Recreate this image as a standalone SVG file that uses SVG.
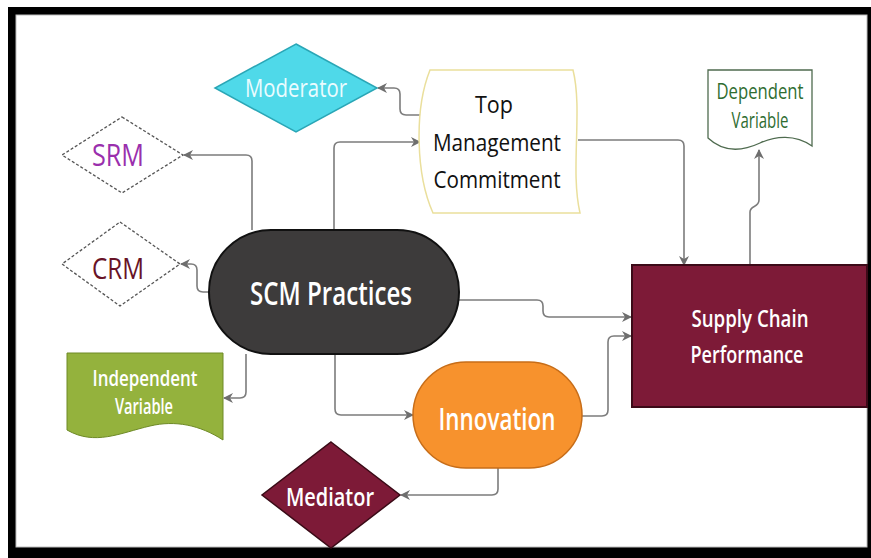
<svg xmlns="http://www.w3.org/2000/svg" width="871" height="558" viewBox="0 0 871 558">
  <style>
    text { font-family: "Open Sans", "Noto Sans", "Liberation Sans", sans-serif; text-anchor: middle; font-weight: 500; }
    .wire { fill: none; stroke: #7c7c7c; stroke-width: 1.6; marker-end: url(#arrow); }
    .light { fill: #ffffff; font-weight: 600; }
  </style>
  <defs>
    <marker id="arrow" markerUnits="userSpaceOnUse" markerWidth="12" markerHeight="12" refX="9" refY="5" orient="auto">
      <path d="M0,0 L10,5 L0,10 L3,5 Z" fill="#6e6e6e"/>
    </marker>
  </defs>

  <!-- frame -->
  <rect x="0" y="0" width="871" height="558" fill="#ffffff"/>
  <rect x="8" y="7" width="863" height="551" fill="#000000"/>
  <rect x="16" y="15" width="851" height="532" fill="#ffffff" stroke="#bdbdbd" stroke-width="1"/>

  <!-- connectors -->
  <g id="connectors">
    <path class="wire" d="M252,230 V161 Q252,155 246,155 H184"/>
    <path class="wire" d="M209,292 H203 Q197,292 197,286 V270 Q197,264 191,264 H181"/>
    <path class="wire" d="M246,354 V392 Q246,398 240,398 H224"/>
    <path class="wire" d="M334,230 V148 Q334,142 340,142 H420"/>
    <path class="wire" d="M421,115 H406 Q400,115 400,109 V94 Q400,88 394,88 H378"/>
    <path class="wire" d="M578,140 H678 Q684,140 684,146 V265"/>
    <path class="wire" d="M750,265 V212 C750,205 759,208 759,200 V150"/>
    <path class="wire" d="M459,300 H537 Q543,300 543,306 V311 Q543,317 549,317 H631"/>
    <path class="wire" d="M582,416 H602 Q608,416 608,410 V342 Q608,336 614,336 H631"/>
    <path class="wire" d="M335,354 V409 Q335,415 341,415 H413"/>
    <path class="wire" d="M498,468 V489 Q498,495 492,495 H401"/>
  </g>

  <!-- Moderator -->
  <g id="moderator">
    <path d="M296,44 L377,88 L296,132 L215,88 Z" fill="#4fd9e9" stroke="#2aa6b6" stroke-width="1.5"/>
    <text x="296" y="97" font-size="25" fill="#eafcff" textLength="102" lengthAdjust="spacingAndGlyphs">Moderator</text>
  </g>

  <!-- Top Management Commitment -->
  <g id="top-management">
    <path d="M430,70 H573 C583,110 570,170 580,213 H433 C416,175 414,110 430,70 Z" fill="#ffffff" stroke="#eadf9c" stroke-width="1.5"/>
    <text x="494" y="113" font-size="24" fill="#111111" textLength="38" lengthAdjust="spacingAndGlyphs">Top</text>
    <text x="497" y="151" font-size="24" fill="#111111" textLength="128" lengthAdjust="spacingAndGlyphs">Management</text>
    <text x="497" y="188" font-size="24" fill="#111111" textLength="127" lengthAdjust="spacingAndGlyphs">Commitment</text>
  </g>

  <!-- SRM -->
  <g id="srm">
    <path d="M122,117 L183,155 L122,193 L62,155 Z" fill="#ffffff" stroke="#555555" stroke-width="1.3" stroke-dasharray="3,2"/>
    <text x="118" y="166" font-size="31" fill="#9a2fad" textLength="52" lengthAdjust="spacingAndGlyphs">SRM</text>
  </g>

  <!-- CRM -->
  <g id="crm">
    <path d="M120,222 L180,264 L120,306 L62,264 Z" fill="#ffffff" stroke="#555555" stroke-width="1.3" stroke-dasharray="3,2"/>
    <text x="118" y="279" font-size="30" fill="#681327" textLength="52" lengthAdjust="spacingAndGlyphs">CRM</text>
  </g>

  <!-- SCM Practices -->
  <g id="scm-practices">
    <rect x="209" y="230" width="250" height="124" rx="62" ry="62" fill="#3d3b3b" stroke="#111111" stroke-width="2"/>
    <text x="331" y="305" font-size="32" class="light" textLength="162" lengthAdjust="spacingAndGlyphs">SCM Practices</text>
  </g>

  <!-- Independent Variable -->
  <g id="independent-variable">
    <path d="M67,353 H223 V440 C200,425 175,420 150,426 C120,433 95,446 67,430 Z" fill="#94b23d" stroke="#6e8a27" stroke-width="1"/>
    <text x="145" y="386" font-size="22" class="light" textLength="105" lengthAdjust="spacingAndGlyphs">Independent</text>
    <text x="144" y="414" font-size="22" class="light" textLength="58" lengthAdjust="spacingAndGlyphs">Variable</text>
  </g>

  <!-- Dependent Variable -->
  <g id="dependent-variable">
    <path d="M708,70 H812 V146 C795,134 775,136 760,143 C745,150 725,154 708,138 Z" fill="#ffffff" stroke="#4f6b4f" stroke-width="1.3"/>
    <text x="760" y="99" font-size="21" fill="#2f6d31" textLength="87" lengthAdjust="spacingAndGlyphs">Dependent</text>
    <text x="760" y="128" font-size="21" fill="#2f6d31" textLength="57" lengthAdjust="spacingAndGlyphs">Variable</text>
  </g>

  <!-- Supply Chain Performance -->
  <g id="supply-chain-performance">
    <rect x="632" y="265" width="235" height="142" fill="#7d1a37" stroke="#3c0a18" stroke-width="2"/>
    <text x="750" y="327" font-size="24" class="light" textLength="117" lengthAdjust="spacingAndGlyphs">Supply Chain</text>
    <text x="747" y="363" font-size="24" class="light" textLength="113" lengthAdjust="spacingAndGlyphs">Performance</text>
  </g>

  <!-- Innovation -->
  <g id="innovation">
    <rect x="413" y="362" width="169" height="106" rx="53" ry="53" fill="#f7922d" stroke="#c76d18" stroke-width="1.5"/>
    <text x="497" y="430" font-size="31" class="light" textLength="117" lengthAdjust="spacingAndGlyphs">Innovation</text>
  </g>

  <!-- Mediator -->
  <g id="mediator">
    <path d="M331,442 L400,495 L331,548 L262,495 Z" fill="#7d1a37" stroke="#3a0a16" stroke-width="1.5"/>
    <text x="330" y="506" font-size="25" class="light" textLength="88" lengthAdjust="spacingAndGlyphs">Mediator</text>
  </g>
</svg>
